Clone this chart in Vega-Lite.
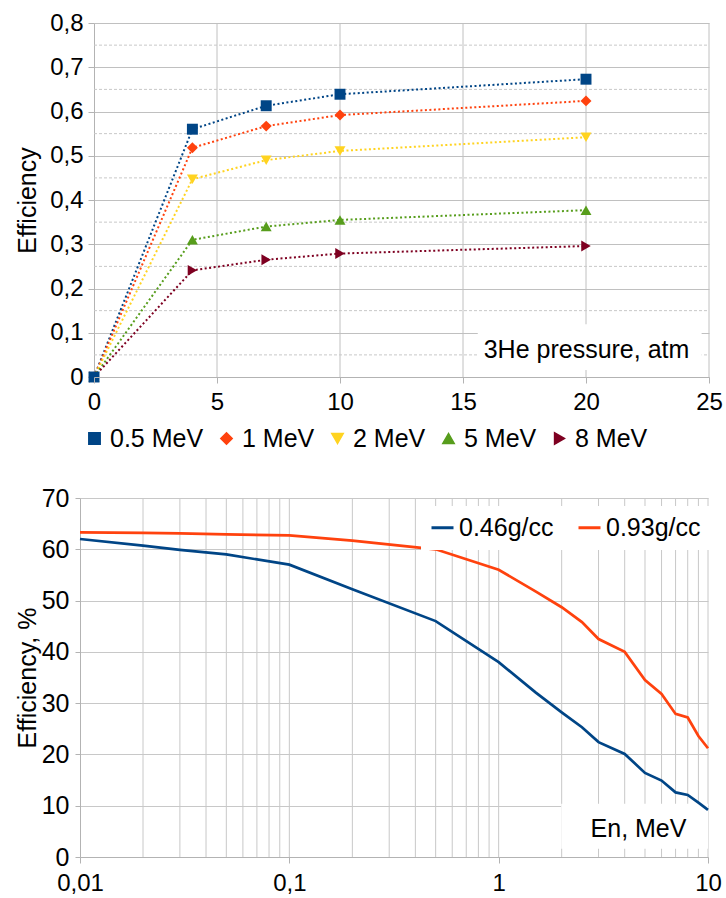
{
  "$schema": "https://vega.github.io/schema/vega-lite/v6.json",
  "background": "white",
  "padding": {"left": 15, "top": 11, "right": 0, "bottom": 0},
  "config": {
    "view": {"stroke": null},
    "font": "Liberation Sans",
    "axis": {"labelColor": "black", "titleColor": "black", "titleFontWeight": "normal", "labelFont": "Liberation Sans", "titleFont": "Liberation Sans", "labelFlush": false},
    "legend": {"labelFont": "Liberation Sans", "labelColor": "black"}
  },
  "datasets": {
    "top": [
      {"p": 0, "eff": 0, "series": "0.5 MeV"}, {"p": 4, "eff": 0.560, "series": "0.5 MeV"}, {"p": 7, "eff": 0.613, "series": "0.5 MeV"}, {"p": 10, "eff": 0.639, "series": "0.5 MeV"}, {"p": 20, "eff": 0.673, "series": "0.5 MeV"},
      {"p": 0, "eff": 0, "series": "1 MeV"}, {"p": 4, "eff": 0.518, "series": "1 MeV"}, {"p": 7, "eff": 0.567, "series": "1 MeV"}, {"p": 10, "eff": 0.592, "series": "1 MeV"}, {"p": 20, "eff": 0.624, "series": "1 MeV"},
      {"p": 0, "eff": 0, "series": "2 MeV"}, {"p": 4, "eff": 0.447, "series": "2 MeV"}, {"p": 7, "eff": 0.490, "series": "2 MeV"}, {"p": 10, "eff": 0.511, "series": "2 MeV"}, {"p": 20, "eff": 0.542, "series": "2 MeV"},
      {"p": 0, "eff": 0, "series": "5 MeV"}, {"p": 4, "eff": 0.310, "series": "5 MeV"}, {"p": 7, "eff": 0.340, "series": "5 MeV"}, {"p": 10, "eff": 0.355, "series": "5 MeV"}, {"p": 20, "eff": 0.377, "series": "5 MeV"},
      {"p": 0, "eff": 0, "series": "8 MeV"}, {"p": 4, "eff": 0.241, "series": "8 MeV"}, {"p": 7, "eff": 0.265, "series": "8 MeV"}, {"p": 10, "eff": 0.279, "series": "8 MeV"}, {"p": 20, "eff": 0.296, "series": "8 MeV"}
    ],
    "topVGrid": [{"p": 5}, {"p": 10}, {"p": 15}, {"p": 20}, {"p": 25}],
    "topMinor": [{"eff": 0.05}, {"eff": 0.15}, {"eff": 0.25}, {"eff": 0.35}, {"eff": 0.45}, {"eff": 0.55}, {"eff": 0.65}, {"eff": 0.75}],
    "bottom": [
      {"en": 0.01, "eff": 62.0, "density": "0.46g/cc"}, {"en": 0.02, "eff": 60.7, "density": "0.46g/cc"}, {"en": 0.03, "eff": 59.9, "density": "0.46g/cc"}, {"en": 0.05, "eff": 59.0, "density": "0.46g/cc"}, {"en": 0.1, "eff": 57.0, "density": "0.46g/cc"}, {"en": 0.2, "eff": 52.2, "density": "0.46g/cc"}, {"en": 0.5, "eff": 46.0, "density": "0.46g/cc"}, {"en": 1, "eff": 38.0, "density": "0.46g/cc"}, {"en": 1.5, "eff": 32.1, "density": "0.46g/cc"}, {"en": 2, "eff": 28.2, "density": "0.46g/cc"}, {"en": 2.5, "eff": 25.3, "density": "0.46g/cc"}, {"en": 3, "eff": 22.4, "density": "0.46g/cc"}, {"en": 4, "eff": 20.1, "density": "0.46g/cc"}, {"en": 5, "eff": 16.4, "density": "0.46g/cc"}, {"en": 6, "eff": 14.9, "density": "0.46g/cc"}, {"en": 7, "eff": 12.6, "density": "0.46g/cc"}, {"en": 8, "eff": 12.1, "density": "0.46g/cc"}, {"en": 9, "eff": 10.6, "density": "0.46g/cc"}, {"en": 10, "eff": 9.2, "density": "0.46g/cc"},
      {"en": 0.01, "eff": 63.3, "density": "0.93g/cc"}, {"en": 0.02, "eff": 63.2, "density": "0.93g/cc"}, {"en": 0.03, "eff": 63.1, "density": "0.93g/cc"}, {"en": 0.05, "eff": 62.9, "density": "0.93g/cc"}, {"en": 0.1, "eff": 62.7, "density": "0.93g/cc"}, {"en": 0.2, "eff": 61.7, "density": "0.93g/cc"}, {"en": 0.5, "eff": 60.0, "density": "0.93g/cc"}, {"en": 1, "eff": 56.0, "density": "0.93g/cc"}, {"en": 1.5, "eff": 51.8, "density": "0.93g/cc"}, {"en": 2, "eff": 48.7, "density": "0.93g/cc"}, {"en": 2.5, "eff": 45.8, "density": "0.93g/cc"}, {"en": 3, "eff": 42.5, "density": "0.93g/cc"}, {"en": 4, "eff": 40.0, "density": "0.93g/cc"}, {"en": 5, "eff": 34.5, "density": "0.93g/cc"}, {"en": 6, "eff": 31.8, "density": "0.93g/cc"}, {"en": 7, "eff": 27.9, "density": "0.93g/cc"}, {"en": 8, "eff": 27.2, "density": "0.93g/cc"}, {"en": 9, "eff": 23.6, "density": "0.93g/cc"}, {"en": 10, "eff": 21.2, "density": "0.93g/cc"}
    ],
    "bottomVGrid": [
      {"en": 0.02}, {"en": 0.03}, {"en": 0.04}, {"en": 0.05}, {"en": 0.06}, {"en": 0.07}, {"en": 0.08}, {"en": 0.09}, {"en": 0.1},
      {"en": 0.2}, {"en": 0.3}, {"en": 0.4}, {"en": 0.5}, {"en": 0.6}, {"en": 0.7}, {"en": 0.8}, {"en": 0.9}, {"en": 1},
      {"en": 2}, {"en": 3}, {"en": 4}, {"en": 5}, {"en": 6}, {"en": 7}, {"en": 8}, {"en": 9}, {"en": 10}
    ],
    "one": [{}]
  },
  "spacing": 32,
  "resolve": {
    "scale": {"x": "independent", "y": "independent", "color": "independent", "shape": "independent"},
    "legend": {"color": "independent", "shape": "independent"}
  },
  "vconcat": [
    {
      "width": 629,
      "height": 354,
      "layer": [
        {
          "data": {"name": "topVGrid"},
          "mark": {"type": "rule", "color": "#c0c0c0", "strokeWidth": 1},
          "encoding": {
            "x": {"field": "p", "type": "quantitative", "scale": {"domain": [0, 25], "range": [14, 629], "nice": false},
              "axis": {"values": [0, 5, 10, 15, 20, 25], "grid": false, "zindex": 1, "labelFontSize": 24, "labelPadding": 7, "tickSize": 6, "tickColor": "#b3b3b3", "domainColor": "#b3b3b3",
                "title": "3He pressure, atm", "titleFontSize": 25, "titleX": 506, "titleY": -28, "titleBaseline": "middle", "titleAlign": "center", "titleAnchor": null}}
          }
        },
        {
          "data": {"name": "topMinor"},
          "mark": {"type": "rule", "color": "#c8c8c8", "strokeWidth": 1, "strokeDash": [3, 2]},
          "encoding": {
            "x": {"datum": 0, "type": "quantitative"},
            "x2": {"datum": 25},
            "y": {"field": "eff", "type": "quantitative", "scale": {"domain": [0, 0.8], "nice": false},
              "axis": {"values": [0, 0.1, 0.2, 0.3, 0.4, 0.5, 0.6, 0.7, 0.8], "offset": -14, "grid": true, "gridColor": "#c0c0c0", "labelFontSize": 24, "labelPadding": 5, "tickSize": 6, "tickColor": "#b3b3b3", "domainColor": "#b3b3b3",
                "labelExpr": "datum.value == 0 ? '0' : replace(format(datum.value, '.1f'), '.', ',')",
                "title": "Efficiency", "titleFontSize": 25, "titlePadding": 9}}
          }
        },
        {
          "data": {"name": "one"},
          "mark": {"type": "rect", "color": "white"},
          "encoding": {
            "x": {"datum": 15.6, "type": "quantitative"},
            "x2": {"datum": 24.7},
            "y": {"datum": 0.016, "type": "quantitative"},
            "y2": {"datum": 0.119}
          }
        },
        {
          "data": {"name": "top"},
          "mark": {"type": "line", "strokeDash": [2, 2.5], "strokeWidth": 2},
          "encoding": {
            "x": {"field": "p", "type": "quantitative"},
            "y": {"field": "eff", "type": "quantitative"},
            "color": {"field": "series", "type": "nominal",
              "scale": {"domain": ["0.5 MeV", "1 MeV", "2 MeV", "5 MeV", "8 MeV"], "range": ["#004586", "#ff420e", "#ffd320", "#579d1c", "#7e0021"]},
              "legend": {"title": null, "orient": "bottom", "offset": 10, "direction": "horizontal", "gridAlign": "none", "labelFontSize": 25, "symbolSize": 130, "labelOffset": 3, "columnPadding": 10, "padding": 2}}
          }
        },
        {
          "data": {"name": "top"},
          "mark": {"type": "point", "filled": true, "opacity": 1, "size": 120},
          "encoding": {
            "x": {"field": "p", "type": "quantitative"},
            "y": {"field": "eff", "type": "quantitative"},
            "order": {"field": "series", "sort": "descending"},
            "color": {"field": "series", "type": "nominal",
              "scale": {"domain": ["0.5 MeV", "1 MeV", "2 MeV", "5 MeV", "8 MeV"], "range": ["#004586", "#ff420e", "#ffd320", "#579d1c", "#7e0021"]},
              "legend": {"title": null, "orient": "bottom", "offset": 10, "direction": "horizontal", "gridAlign": "none", "labelFontSize": 25, "symbolSize": 130, "labelOffset": 3, "columnPadding": 10, "padding": 2}},
            "shape": {"field": "series", "type": "nominal",
              "scale": {"domain": ["0.5 MeV", "1 MeV", "2 MeV", "5 MeV", "8 MeV"], "range": ["square", "diamond", "triangle-down", "triangle-up", "triangle-right"]},
              "legend": {"title": null, "orient": "bottom", "offset": 10, "direction": "horizontal", "gridAlign": "none", "labelFontSize": 25, "symbolSize": 130, "labelOffset": 3, "columnPadding": 10, "padding": 2}}
          }
        }
      ]
    },
    {
      "width": 628,
      "height": 359,
      "layer": [
        {
          "data": {"name": "bottomVGrid"},
          "mark": {"type": "rule", "color": "#c8c8c8", "strokeWidth": 1},
          "encoding": {
            "x": {"field": "en", "type": "quantitative", "scale": {"type": "log", "domain": [0.01, 10], "nice": false},
              "axis": {"values": [0.01, 0.1, 1, 10], "grid": false, "zindex": 1, "labelFontSize": 24, "labelPadding": 8, "tickSize": 6, "tickColor": "#b3b3b3", "domainColor": "#b3b3b3",
                "labelExpr": "replace(format(datum.value, '~g'), '.', ',')",
                "title": "En, MeV", "titleFontSize": 25, "titleX": 558, "titleY": -29, "titleBaseline": "middle", "titleAlign": "center", "titleAnchor": null}}
          }
        },
        {
          "data": {"name": "one"},
          "mark": {"type": "rect", "color": "white"},
          "encoding": {
            "x": {"datum": 1.99, "type": "quantitative"},
            "x2": {"datum": 10},
            "y": {"datum": 1.6, "type": "quantitative", "scale": {"domain": [0, 70], "nice": false},
              "axis": {"values": [0, 10, 20, 30, 40, 50, 60, 70], "grid": true, "gridColor": "#c8c8c8", "labelFontSize": 25, "labelPadding": 6, "tickSize": 5, "tickColor": "#b3b3b3", "domainColor": "#b3b3b3",
                "title": "Efficiency, %", "titleFontSize": 25, "titlePadding": 1}},
            "y2": {"datum": 10.4}
          }
        },
        {
          "data": {"name": "bottom"},
          "mark": {"type": "line", "strokeWidth": 2.7},
          "encoding": {
            "x": {"field": "en", "type": "quantitative"},
            "y": {"field": "eff", "type": "quantitative"},
            "color": {"field": "density", "type": "nominal",
              "scale": {"domain": ["0.46g/cc", "0.93g/cc"], "range": ["#004586", "#ff420e"]},
              "legend": {"title": null, "orient": "none", "legendX": 341, "legendY": 8, "direction": "horizontal", "fillColor": "white", "padding": 9, "symbolType": "stroke", "symbolStrokeWidth": 3, "symbolSize": 484, "labelFontSize": 25, "labelOffset": 4, "columnPadding": 18}}
          }
        }
      ]
    }
  ]
}
